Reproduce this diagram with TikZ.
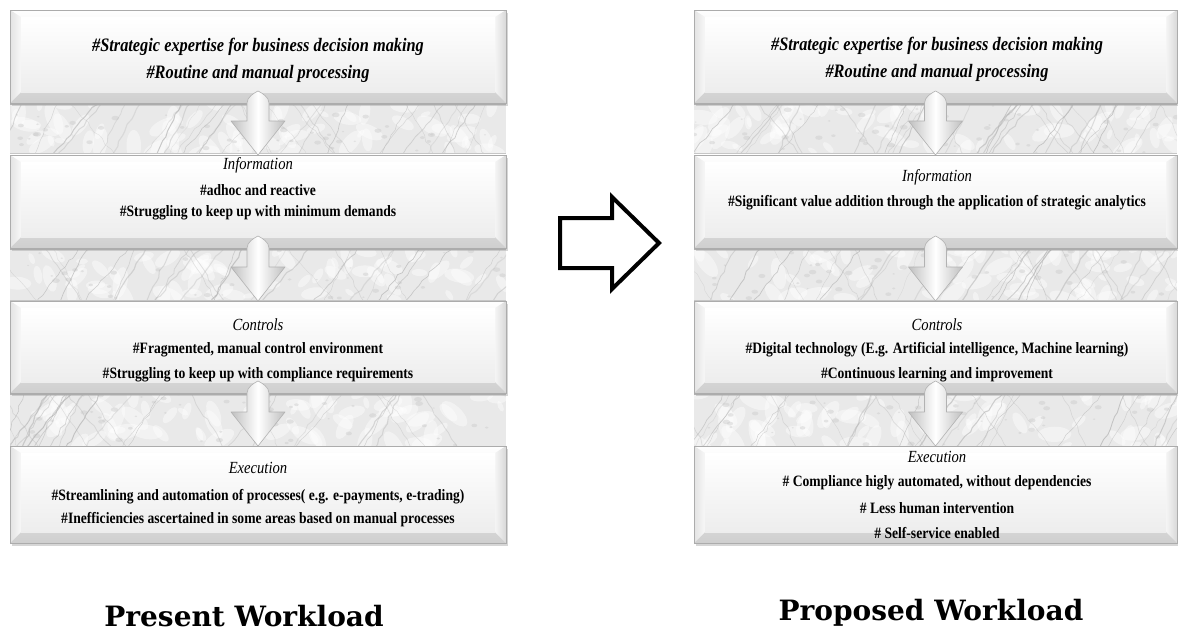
\documentclass[tikz,border=0pt]{standalone}
\usepackage{fontspec}
\setmainfont{Liberation Serif}
\newfontfamily\bodyfont[FakeStretch=0.86]{Liberation Serif}
\newfontfamily\slabfont{DejaVu Serif}
\usetikzlibrary{calc,decorations.pathmorphing}

\tikzset{
  x=1pt, y=-1pt,
  boxanchor/.style={inner sep=0pt, outer sep=0pt, draw=none},
  boxshadow/.style={fill=gray!70, opacity=0.45},
  boxouter/.style={top color=white, bottom color=gray!38, draw=gray!65, line width=0.8pt},
  boxface/.style={top color=white, bottom color=gray!14},
  bevelleft/.style={left color=gray!22, right color=gray!6},
  bevelright/.style={left color=gray!8, right color=gray!30},
  marblebase/.style={fill=gray!17},
  vein/.style={draw=gray!60, decorate, decoration={random steps, segment length=6pt, amplitude=1.3pt}},
  downarrow/.style={left color=gray!50, right color=gray!50, middle color=white, draw=gray!60, line width=0.6pt, line join=round},
  bigarrow/.style={draw=black, line width=4pt, fill=white, line join=miter},
  headtext/.style={font=\bodyfont\bfseries\itshape\fontsize{19}{22}\selectfont, inner sep=0pt},
  sectitle/.style={font=\bodyfont\itshape\fontsize{17}{20}\selectfont, inner sep=0pt},
  bodytext/.style={font=\bodyfont\bfseries\fontsize{15.8}{18}\selectfont, inner sep=0pt},
  paneltitle/.style={font=\slabfont\bfseries\fontsize{28}{32}\selectfont, inner sep=0pt},
}

% beveled box: name, x1, y1, x2, y2
\newcommand\bevelbox[5]{%
  \fill[boxshadow] (#2+2,#3+3) rectangle (#4+2,#5+3);
  \path[boxouter] (#2,#3) rectangle (#4,#5);
  \path[bevelleft] (#2,#3) -- (#2+11,#3+7) -- (#2+11,#5-11) -- (#2,#5) -- cycle;
  \path[bevelright] (#4,#3) -- (#4-11,#3+7) -- (#4-11,#5-11) -- (#4,#5) -- cycle;
  \path[boxface] (#2+11,#3+7) rectangle (#4-11,#5-11);
  \draw[gray!65, line width=0.8pt] (#2,#3) rectangle (#4,#5);
  \node[boxanchor, minimum width={(#4-#2)*1pt}, minimum height={(#5-#3)*1pt}]
    (#1) at ({(#2+#4)/2},{(#3+#5)/2}) {};
}

% marble strip: x1, y1, x2, y2, seed
\newcommand\marble[5]{%
  \begin{scope}
    \clip (#1,#2) rectangle (#3,#4);
    \fill[marblebase] (#1,#2) rectangle (#3,#4);
    \pgfmathsetseed{#5}
    \foreach \k in {1,...,70} {
      \pgfmathsetmacro\cx{#1+rnd*(#3-#1)}
      \pgfmathsetmacro\cy{#2+rnd*(#4-#2)}
      \pgfmathsetmacro\rr{5+rnd*12}
      \pgfmathsetmacro\ang{rnd*180}
      \fill[white, opacity=0.45, rotate around={\ang:(\cx,\cy)}] (\cx,\cy) ellipse ({\rr*1pt} and {\rr*0.45pt});
    }
    \foreach \k in {1,...,50} {
      \pgfmathsetmacro\cx{#1+rnd*(#3-#1)}
      \pgfmathsetmacro\cy{#2+rnd*(#4-#2)}
      \pgfmathsetmacro\rr{1+rnd*3}
      \fill[gray!45, opacity=0.4] (\cx,\cy) ellipse ({\rr*1pt} and {\rr*0.6pt});
    }
    \foreach \k in {1,...,26} {
      \pgfmathsetmacro\sx{#1-30+rnd*(#3-#1+60)}
      \pgfmathsetmacro\dx{25+rnd*30}
      \pgfmathsetmacro\lw{0.3+rnd*0.9}
      \pgfmathsetmacro\op{0.25+rnd*0.45}
      \draw[vein, line width=\lw pt, opacity=\op] (\sx,#4+4) -- ++(\dx,-62);
    }
    \foreach \k in {1,...,10} {
      \pgfmathsetmacro\sx{#1-30+rnd*(#3-#1+60)}
      \pgfmathsetmacro\dx{25+rnd*30}
      \pgfmathsetmacro\lw{0.3+rnd*0.6}
      \draw[vein, line width=\lw pt, opacity=0.35] (\sx,#2-4) -- ++(\dx,62);
    }
  \end{scope}
  \draw[gray!60, line width=1.6pt] (#1,#2+0.8) -- (#3,#2+0.8);
  \draw[gray!45, line width=0.8pt] (#1,#4) -- (#3,#4);
}

% downward block arrow from the bottom of one box to the top of the next
\newcommand\flowarrow[2]{%
  \path[downarrow] let \p1=(#1.south), \p2=(#2.north) in
    (\x1-11pt,\y2+34pt) -- (\x1-11pt,\y1)
    .. controls (\x1-11pt,\y1+6pt) and (\x1-4pt,\y1+10pt) .. (\x1,\y1+12pt)
    .. controls (\x1+4pt,\y1+10pt) and (\x1+11pt,\y1+6pt) .. (\x1+11pt,\y1)
    -- (\x1+11pt,\y2+34pt) -- (\x1+27pt,\y2+34pt) -- (\x1,\y2)
    -- (\x1-27pt,\y2+34pt) -- cycle;
}

\begin{document}
\begin{tikzpicture}
\useasboundingbox (0,0) rectangle (1178,632);
\fill[white] (0,0) rectangle (1178,632);

% ---------- left column: present workload ----------
\marble{10}{103}{506}{153}{3}
\marble{10}{248}{506}{300}{5}
\marble{10}{393}{506}{446}{8}
\bevelbox{L1}{10}{10}{506}{103}
\bevelbox{L2}{10}{155}{506}{248}
\bevelbox{L3}{10}{301}{506}{393}
\bevelbox{L4}{10}{446}{506}{543}
\flowarrow{L1}{L2}
\flowarrow{L2}{L3}
\flowarrow{L3}{L4}

\node[headtext] (l1a) at (258,47) {\#Strategic expertise for business decision making};
\node[headtext] (l1b) at (258,74) {\#Routine and manual processing};
\node[sectitle] (l2a) at (258,165) {Information};
\node[bodytext] (l2b) at (258,190) {\#adhoc and reactive};
\node[bodytext] (l2c) at (258,213) {\#Struggling to keep up with minimum demands};
\node[sectitle] (l3a) at (258,325) {Controls};
\node[bodytext] (l3b) at (258,350) {\#Fragmented, manual control environment};
\node[bodytext] (l3c) at (258,375) {\#Struggling to keep up with compliance requirements};
\node[sectitle] (l4a) at (258,468) {Execution};
\node[bodytext] (l4b) at (258,497) {\#Streamlining and automation of processes( e.g. e-payments, e-trading)};
\node[bodytext] (l4c) at (258,520) {\#Inefficiencies ascertained in some areas based on manual processes};
\node[paneltitle] (ltitle) at (244,616) {Present Workload};

% ---------- transition arrow ----------
\path[bigarrow] (560,218) -- (612,218) -- (612,197) -- (659,243)
  -- (612,289) -- (612,268) -- (560,268) -- cycle;

% ---------- right column: proposed workload ----------
\marble{694}{103}{1177}{153}{13}
\marble{694}{248}{1177}{300}{17}
\marble{694}{393}{1177}{446}{19}
\bevelbox{R1}{694}{10}{1177}{103}
\bevelbox{R2}{694}{155}{1177}{248}
\bevelbox{R3}{694}{301}{1177}{393}
\bevelbox{R4}{694}{446}{1177}{543}
\flowarrow{R1}{R2}
\flowarrow{R2}{R3}
\flowarrow{R3}{R4}

\node[headtext] (r1a) at (937,46) {\#Strategic expertise for business decision making};
\node[headtext] (r1b) at (937,73) {\#Routine and manual processing};
\node[sectitle] (r2a) at (937,177) {Information};
\node[bodytext] (r2b) at (937,203) {\#Significant value addition through the application of strategic analytics};
\node[sectitle] (r3a) at (937,325) {Controls};
\node[bodytext] (r3b) at (937,350) {\#Digital technology (E.g. Artificial intelligence, Machine learning)};
\node[bodytext] (r3c) at (937,375) {\#Continuous learning and improvement};
\node[sectitle] (r4a) at (937,457) {Execution};
\node[bodytext] (r4b) at (937,483) {\# Compliance higly automated, without dependencies};
\node[bodytext] (r4c) at (937,508) {\# Less human intervention};
\node[bodytext] (r4d) at (937,533) {\# Self-service enabled};
\node[paneltitle] (rtitle) at (931,613) {Proposed Workload};
\end{tikzpicture}
\end{document}
